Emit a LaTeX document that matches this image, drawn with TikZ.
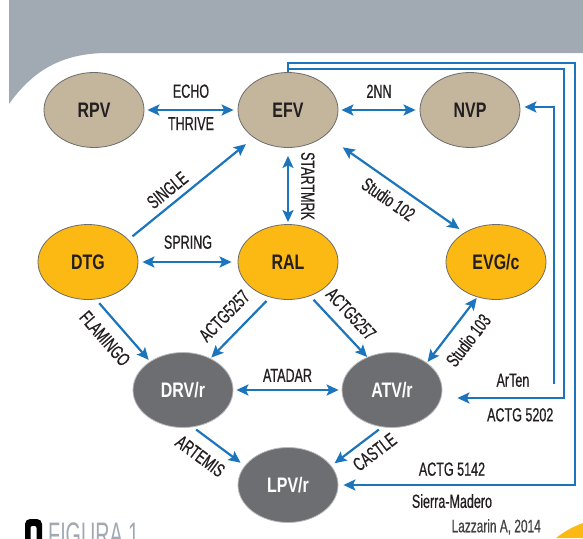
\documentclass[tikz,border=0pt]{standalone}
\usepackage{fontspec}
\setmainfont{Liberation Sans}[FakeStretch=0.66, FakeBold=0.6]
\newfontfamily\nodefont{Liberation Sans}[FakeStretch=0.76]
\newfontfamily\figfont{Liberation Sans}[FakeStretch=0.58]
\usepackage{xcolor}
\usepackage{tikz}
\usetikzlibrary{arrows.meta,shapes.geometric}

\definecolor{hdrgrey}{RGB}{161,170,178}
\definecolor{tanfill}{RGB}{196,181,157}
\definecolor{orfill}{RGB}{253,185,19}
\definecolor{dkfill}{RGB}{109,110,113}
\definecolor{arrowblue}{RGB}{28,117,188}
\definecolor{txt}{RGB}{35,31,32}

\begin{document}
\begin{tikzpicture}[
  x=1pt, y=-1pt,
  >={Stealth[length=12pt,width=11pt,inset=2.5pt]},
  drug/.style={ellipse, draw=gray!85!black, line width=0.8pt, minimum width=100pt, minimum height=75pt, inner sep=0pt, text=txt, font=\nodefont\bfseries\fontsize{21}{24}\selectfont},
  old/.style={drug, fill=tanfill},
  base/.style={drug, fill=orfill},
  boosted/.style={drug, fill=dkfill, draw=gray!55, text=white},
  arrow/.style={->, line width=2.2pt, arrowblue},
  twoway/.style={<->, line width=2.2pt, arrowblue},
  lbl/.style={text=txt, inner sep=2pt, font=\fontsize{19}{21}\selectfont}
]
\useasboundingbox (0,0) rectangle (583,538);
\clip (0,0) rectangle (583,538);

% header band and corners
\fill[hdrgrey] (9,0) -- (583,0) -- (583,53) -- (108,53) .. controls (60,53) and (32,72) .. (9,104) -- cycle;
\fill[orfill] (556,538) .. controls (566,530) and (575,526) .. (583,523) -- (583,538) -- cycle;
\fill[black, rounded corners=5pt] (25,519) rectangle (42,552);
\fill[white, rounded corners=2pt] (30.5,526) rectangle (36.5,552);
\node[anchor=north west, inner sep=0pt, text=hdrgrey, font=\figfont\fontsize{34}{36}\selectfont] (fig) at (48,523) {FIGURA 1};
\node[anchor=north east, inner sep=0pt, text=txt!85, font=\fontsize{18}{20}\selectfont] (cite) at (541,519) {Lazzarin A, 2014};

% drugs
\node[old] (rpv) at (94,110) {RPV};
\node[old] (efv) at (288,110) {EFV};
\node[old] (nvp) at (470,110) {NVP};
\node[base] (dtg) at (88,262) {DTG};
\node[base] (ral) at (288,262) {RAL};
\node[base] (evg) at (496,262) {EVG/c};
\node[boosted] (drv) at (183,390) {DRV/r};
\node[boosted] (atv) at (392,390) {ATV/r};
\node[boosted] (lpv) at (288,485) {LPV/r};

\coordinate (outerA) at (575,63);
\coordinate (outerB) at (564,69);
\coordinate (arten) at (554,384);

% studies
\draw[twoway, shorten <=3pt, shorten >=4pt] (rpv) -- node[lbl, above=9pt]{ECHO} node[lbl, below=4pt]{THRIVE} (efv);
\draw[twoway, shorten <=3pt, shorten >=4pt] (efv) -- node[lbl, above=9pt]{2NN} (nvp);
\draw[arrow, shorten <=5pt, shorten >=10pt] (dtg.29) -- node[lbl, sloped, above=4pt, pos=0.38]{SINGLE} (efv.-141);
\draw[twoway, shorten <=8pt, shorten >=2pt] (efv) -- node[lbl, sloped, above=10pt]{STARTMRK} (ral);
\draw[twoway, shorten <=21pt, shorten >=6pt] (efv.-34) -- node[lbl, sloped, below=6pt, pos=0.52]{Studio 102} (evg.137);
\draw[twoway, shorten <=4pt, shorten >=6pt] (dtg) -- node[lbl, above=10pt]{SPRING} (ral);
\draw[arrow, shorten <=5pt, shorten >=2pt] (dtg.-78) -- node[lbl, sloped, below=9pt, pos=0.43]{FLAMINGO} (drv.139);
\draw[arrow, shorten <=5pt, shorten >=1pt] (ral.-117) -- node[lbl, sloped, above=10pt, pos=0.53]{ACTG5257} (drv.49);
\draw[arrow, shorten <=5pt] (ral.-57) -- node[lbl, sloped, above=8pt, pos=0.49]{ACTG5257} (atv.127);
\draw[twoway, shorten <=3pt, shorten >=3pt] (drv) -- node[lbl, above=5pt]{ATADAR} (atv);
\draw[twoway, shorten <=1pt, shorten >=1pt] (evg.-118) -- node[lbl, sloped, below=9pt, pos=0.48]{Studio 103} (atv.38);
\draw[arrow, shorten <=4pt, shorten >=5pt] (drv.-75) -- node[lbl, sloped, below=9pt, pos=0.36]{ARTEMIS} (lpv.156);
\draw[arrow, shorten <=4pt, shorten >=4pt] (atv.-105) -- node[lbl, sloped, below=5.5pt, pos=0.33]{CASTLE} (lpv.24);

% switch lines on the right
\draw[arrow, shorten >=5pt] (efv.north) |- (outerA) |- node[lbl, pos=0.76, above=6pt]{ACTG 5142} node[lbl, pos=0.76, below=6pt]{Sierra-Madero} (lpv.east);
\draw[arrow, shorten >=15pt] (efv.north) |- (outerB) |- node[lbl, pos=0.71, above=8pt]{ArTen} node[lbl, pos=0.68, below=7pt]{ACTG 5202} ([yshift=-8pt]atv.east);
\draw[arrow, shorten >=4pt] (arten) |- ([yshift=3pt]nvp.east);
\end{tikzpicture}
\end{document}
